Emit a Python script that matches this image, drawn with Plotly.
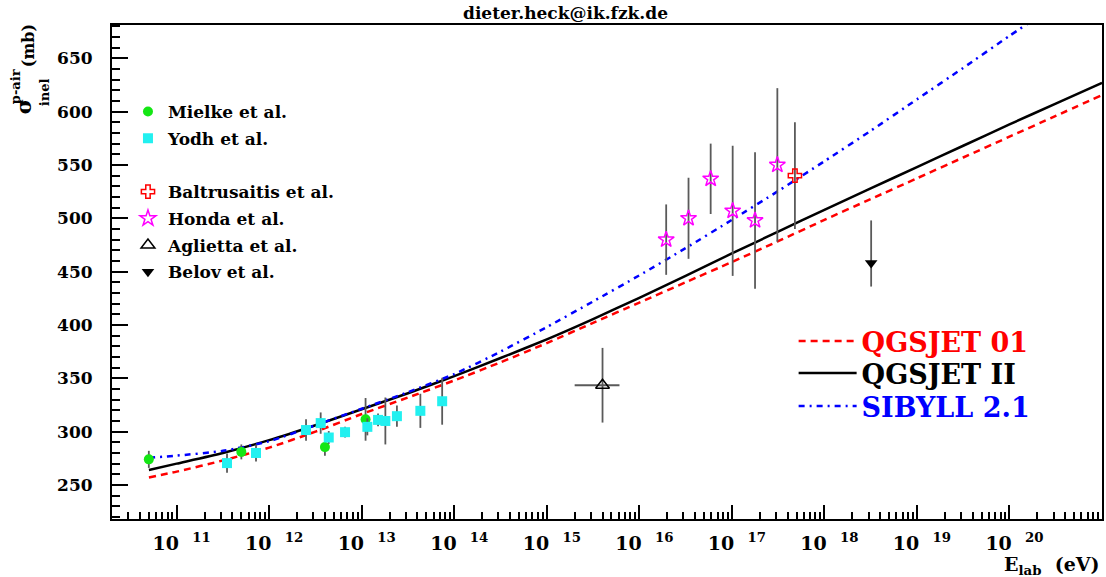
import plotly.graph_objects as go

# ---------------- data ----------------
mielke_E = [5.0e10, 5.0e11, 4.0e12, 1.1e13]
mielke_sigma = [274.0, 281.0, 285.5, 311.5]
mielke_err = [8, 7, 8, 20]

yodh_E = [3.5e11, 7.2e11, 2.5e12, 3.6e12, 4.4e12, 6.6e12, 1.15e13, 1.5e13, 1.8e13, 2.4e13, 4.3e13, 7.4e13]
yodh_sigma = [270.5, 280.0, 301.5, 308.0, 294.5, 299.5, 304.5, 311.0, 310.0, 314.5, 319.5, 328.5]
yodh_err = [9, 8, 10, 10, 6, 5, 8, 6, 22, 10, 16, 22]

baltrusaitis_E = [4.8e17]
baltrusaitis_sigma = [540.0]
baltrusaitis_err = [50]

honda_E = [1.95e16, 3.4e16, 5.9e16, 1.02e17, 1.78e17, 3.1e17]
honda_sigma = [480.0, 500.0, 537.0, 507.0, 498.0, 550.0]
honda_err = [33, 38, 33, 61, 64, 72]

aglietta_E = [4.0e15]
aglietta_E_err_minus = [2.0e15]
aglietta_E_err_plus = [2.1e15]
aglietta_sigma = [343.5]
aglietta_err = [35]

belov_E = [3.2e18]
belov_sigma = [458.0]
belov_err_plus = [40]
belov_err_minus = [22]

model_log10E = [10.7, 11.0, 11.5, 12.0, 12.5, 13.0, 13.5, 14.0, 14.5, 15.0, 15.5,
                16.0, 16.5, 17.0, 17.5, 18.0, 18.5, 19.0, 19.5, 20.0, 20.5, 21.0]
qgsjet01_sigma = [257.0, 262.5, 273.0, 285.0, 300.0, 316.5, 332.0, 348.0, 365.0, 383.0, 402.0,
                  421.0, 440.0, 459.0, 478.5, 498.5, 518.0, 537.5, 557.0, 576.5, 596.0, 615.5]
qgsjet2_sigma = [264.0, 270.0, 280.0, 292.0, 306.0, 321.0, 336.0, 352.0, 369.0, 386.5, 405.5,
                 425.5, 446.0, 467.0, 487.5, 508.0, 528.0, 548.0, 568.0, 588.0, 607.5, 627.0]
sibyll_log10E = [10.7, 11.0, 11.5, 12.0, 12.5, 13.0, 13.5, 14.0, 14.5, 15.0, 15.5,
                 16.0, 16.5, 17.0, 17.5, 18.0, 18.5, 19.0, 19.5, 20.0, 20.5]
sibyll_sigma = [275.5, 277.5, 282.0, 291.0, 306.0, 321.5, 337.0, 354.0, 375.0, 398.0, 422.0,
                446.5, 472.0, 498.5, 525.5, 553.5, 582.0, 611.5, 641.0, 671.0, 700.0]

x_tick_exponents = [11, 12, 13, 14, 15, 16, 17, 18, 19, 20]
x_minor_mantissas = [2, 3, 4, 5, 6, 7, 8, 9]
x_minor_decades = [10, 11, 12, 13, 14, 15, 16, 17, 18, 19, 20]
y_tick_values = [250, 300, 350, 400, 450, 500, 550, 600, 650]

# ---------------- layout helpers ----------------
W, H = 1106, 577
ML, MR, MT, MB = 112, 2, 25, 58
PW, PH = W - ML - MR, H - MT - MB
FONT = "DejaVu Serif"


def px_x(p):
    return (p - ML) / PW


def px_y(p):
    return 1 - (p - MT) / PH


ERR = "#5a5a5a"

fig = go.Figure()

# model curves (one single-entry legend each, for exact placement)
fig.add_trace(go.Scatter(
    x=[10.0 ** v for v in model_log10E], y=qgsjet01_sigma, mode="lines",
    line=dict(color="#ff0000", width=2.5, dash="7px,5px", shape="spline", smoothing=0.6),
    name='<span style="color:#ff0000">QGSJET 01</span>', legend="legend2"))
fig.add_trace(go.Scatter(
    x=[10.0 ** v for v in model_log10E], y=qgsjet2_sigma, mode="lines",
    line=dict(color="#000000", width=2.5, shape="spline", smoothing=0.6),
    name='<span style="color:#000000">QGSJET II</span>', legend="legend3"))
fig.add_trace(go.Scatter(
    x=[10.0 ** v for v in sibyll_log10E], y=sibyll_sigma, mode="lines",
    line=dict(color="#0000ff", width=2.5, dash="6px,5px,2px,5px", shape="spline", smoothing=0.6),
    name='<span style="color:#0000ff">SIBYLL 2.1</span>', legend="legend4"))

# data points
fig.add_trace(go.Scatter(
    x=mielke_E, y=mielke_sigma, mode="markers", name="Mielke et al.", legendgroup="a",
    marker=dict(symbol="circle", size=10, color="#14e614"),
    error_y=dict(type="data", array=mielke_err, color=ERR, thickness=1.8, width=0)))
fig.add_trace(go.Scatter(
    x=yodh_E, y=yodh_sigma, mode="markers", name="Yodh et al.", legendgroup="b",
    marker=dict(symbol="square", size=10, color="#22f0f0"),
    error_y=dict(type="data", array=yodh_err, color=ERR, thickness=1.8, width=0)))
fig.add_trace(go.Scatter(
    x=[None], y=[None], mode="markers", name=" ", legendgroup="c",
    marker=dict(color="rgba(0,0,0,0)", line=dict(width=0, color="rgba(0,0,0,0)"))))
fig.add_trace(go.Scatter(
    x=baltrusaitis_E, y=baltrusaitis_sigma, mode="markers", name="Baltrusaitis et al.", legendgroup="d",
    marker=dict(symbol="cross-open", size=11, color="#ff0000", line=dict(width=1.5, color="#ff0000")),
    error_y=dict(type="data", array=baltrusaitis_err, color=ERR, thickness=1.8, width=0)))
fig.add_trace(go.Scatter(
    x=honda_E, y=honda_sigma, mode="markers", name="Honda et al.", legendgroup="e",
    marker=dict(symbol="star-open", size=12, color="#ff00ff", line=dict(width=1.5, color="#ff00ff")),
    error_y=dict(type="data", array=honda_err, color=ERR, thickness=1.8, width=0)))
fig.add_trace(go.Scatter(
    x=aglietta_E, y=aglietta_sigma, mode="markers", name="Aglietta et al.", legendgroup="f",
    marker=dict(symbol="triangle-up-open", size=12, color="#000000", line=dict(width=1.5, color="#000000")),
    error_y=dict(type="data", array=aglietta_err, color=ERR, thickness=1.8, width=0),
    error_x=dict(type="data", array=aglietta_E_err_plus, arrayminus=aglietta_E_err_minus,
                 symmetric=False, color=ERR, thickness=1.8, width=0)))
fig.add_trace(go.Scatter(
    x=belov_E, y=belov_sigma, mode="markers", name="Belov et al.", legendgroup="g",
    marker=dict(symbol="triangle-down", size=11, color="#000000"),
    error_y=dict(type="data", array=belov_err_plus, arrayminus=belov_err_minus, symmetric=False,
                 color=ERR, thickness=1.8, width=0)))

x_minor_vals = [m * 10.0 ** d for d in x_minor_decades for m in x_minor_mantissas]

fig.update_xaxes(
    type="log", range=[10.30103, 21.0],
    tickmode="array", tickvals=[10.0 ** e for e in x_tick_exponents],
    ticktext=["10&nbsp;&nbsp;<sup>%d</sup>" % e for e in x_tick_exponents],
    ticks="inside", ticklen=14, tickwidth=1.5, tickcolor="black",
    minor=dict(tickmode="array", tickvals=x_minor_vals, ticks="inside", ticklen=7,
               tickwidth=1.5, tickcolor="black", showgrid=False),
    showline=True, linewidth=2, linecolor="black", mirror=True,
    showgrid=False, zeroline=False, ticklabelstandoff=6, ticklabelshift=5,
    tickfont=dict(family=FONT, size=19, color="black", weight="bold"))
fig.update_yaxes(
    range=[218.1, 681.2], tickmode="array", tickvals=y_tick_values,
    ticks="inside", ticklen=16, tickwidth=1.5, tickcolor="black",
    minor=dict(dtick=10, tick0=0, ticks="inside", ticklen=8, tickwidth=1.5,
               tickcolor="black", showgrid=False),
    showline=True, linewidth=2, linecolor="black", mirror=True,
    showgrid=False, zeroline=False, ticklabelstandoff=14,
    tickfont=dict(family=FONT, size=17, color="black", weight="bold"))

annotations = [
    dict(text="dieter.heck@ik.fzk.de", x=px_x(566), y=px_y(13), xanchor="center", yanchor="middle",
         font=dict(family=FONT, size=17, color="black", weight="bold")),
    dict(text="σ", x=px_x(23), y=px_y(107), textangle=-90, xanchor="center", yanchor="middle",
         font=dict(family=FONT, size=21, color="black", weight="bold")),
    dict(text="p-air", x=px_x(16), y=px_y(87), textangle=-90, xanchor="center", yanchor="middle",
         font=dict(family=FONT, size=13, color="black", weight="bold")),
    dict(text="inel", x=px_x(44), y=px_y(92), textangle=-90, xanchor="center", yanchor="middle",
         font=dict(family=FONT, size=13, color="black", weight="bold")),
    dict(text="(mb)", x=px_x(28), y=px_y(46), textangle=-90, xanchor="center", yanchor="middle",
         font=dict(family=FONT, size=16, color="black", weight="bold")),
    dict(text="E<sub>lab</sub>&nbsp;&nbsp;(eV)", x=px_x(1104), y=px_y(565), xanchor="right", yanchor="middle",
         font=dict(family=FONT, size=19, color="black", weight="bold")),
]
for a in annotations:
    a.update(xref="paper", yref="paper", showarrow=False)

model_legend = dict(xanchor="left", yanchor="top", itemwidth=58, bgcolor="rgba(0,0,0,0)", borderwidth=0,
                    font=dict(family=FONT, size=27, color="black", weight="bold"))

fig.update_layout(
    width=W, height=H, margin=dict(l=ML, r=MR, t=MT, b=MB, pad=0),
    paper_bgcolor="white", plot_bgcolor="white",
    annotations=annotations,
    showlegend=True,
    legend=dict(x=px_x(128), y=px_y(94), xanchor="left", yanchor="top",
                traceorder="grouped", tracegroupgap=1.6, bgcolor="rgba(0,0,0,0)", borderwidth=0,
                font=dict(family=FONT, size=17, color="black", weight="bold")),
    legend2=dict(model_legend, x=px_x(795), y=px_y(317)),
    legend3=dict(model_legend, x=px_x(795), y=px_y(349)),
    legend4=dict(model_legend, x=px_x(795), y=px_y(382)),
)

fig.write_html("out.html")
